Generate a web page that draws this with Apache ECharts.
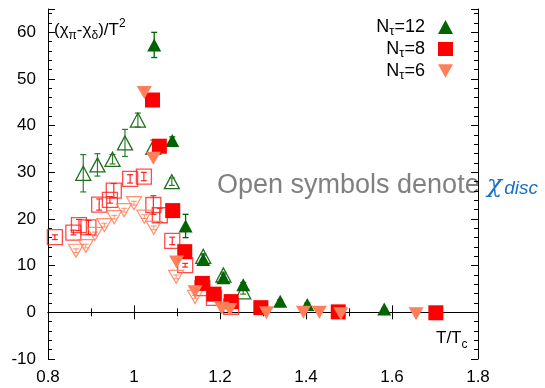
<!DOCTYPE html>
<html>
<head>
<meta charset="utf-8">
<script src="https://cdn.jsdelivr.net/npm/echarts@6/dist/echarts.min.js"></script>
<style>
  html, body { margin: 0; padding: 0; background: #fff; }
  #chart { width: 545px; height: 388px; }
</style>
</head>
<body>
<div id="chart"></div>
<script>
// N_tau = 12, filled: chi_pi - chi_delta over T^2
const t12 = [1.047, 1.089, 1.120, 1.161, 1.208, 1.254, 1.340, 1.403, 1.582];
const v12 = [57.3, 36.8, 18.5, 11.3, 7.4, 5.9, 2.4, 1.7, 0.7];
const e12 = [2.7, 0.8, 2.5, 1.0, 0.8, 0.5, 0.3, 0.3, 0.2];
// N_tau = 12, open: disconnected part
const t12d = [0.882, 0.915, 0.950, 0.979, 1.009, 1.045, 1.088, 1.161, 1.208, 1.254];
const v12d = [29.8, 31.6, 32.8, 36.3, 41.2, 35.4, 28.0, 12.0, 8.0, 4.4];
const e12d = [4.0, 2.4, 1.0, 2.9, 1.5, 1.5, 0.8, 0.6, 0.6, 0.5];
// N_tau = 8, filled
const t8 = [1.043, 1.059, 1.090, 1.118, 1.159, 1.186, 1.226, 1.295, 1.475, 1.702];
const v8 = [45.5, 35.6, 21.8, 13.0, 6.2, 3.9, 2.3, 1.0, 0.1, -0.1];
// N_tau = 8, open
const t8d = [0.816, 0.859, 0.872, 0.894, 0.919, 0.944, 0.953, 0.991, 1.023, 1.045, 1.060, 1.089, 1.119, 1.159, 1.186, 1.226];
const v8d = [16.1, 17.1, 18.7, 18.2, 23.1, 24.1, 26.1, 28.6, 29.1, 23.0, 20.8, 15.3, 10.1, 5.2, 3.1, 1.2];
const e8d = [0.5, 0.5, 1.2, 1.5, 1.2, 0.7, 1.5, 0.9, 0.9, 2.0, 1.5, 0.8, 0.4, 0.4, 0.3, 0.3];
// N_tau = 6, filled
const t6 = [1.024, 1.045, 1.099, 1.142, 1.204, 1.223, 1.308, 1.394, 1.431, 1.481, 1.656];
const v6 = [47.1, 33.0, 10.8, 4.4, 0.9, 0.6, -0.1, 0.0, 0.0, -0.3, -0.3];
// N_tau = 6, open
const t6d = [0.865, 0.888, 0.909, 0.931, 0.954, 0.977, 1.000, 1.024, 1.046, 1.098, 1.142];
const v6d = [13.2, 14.2, 16.8, 18.7, 20.4, 21.9, 23.4, 20.5, 18.1, 7.6, 3.3];
const e6d = [0.4, 0.4, 0.4, 0.4, 0.4, 0.4, 0.4, 0.4, 0.4, 0.4, 0.3];

const xTicks = [0.8, 1.0, 1.2, 1.4, 1.6, 1.8];
const yTicks = [-10, 0, 10, 20, 30, 40, 50, 60];

const GREEN = '#006400';
const RED = '#ff0000';
const SALMON = '#ff7f5a';
const FONT = '"Liberation Sans", Arial, sans-serif';

const pts = (t, v) => t.map((x, i) => [x, v[i]]);
const errPts = (t, v, e) => t.map((x, i) => [x, v[i], e[i]]);

function errorBars(color, width) {
  return function (params, api) {
    const x = api.value(0), y = api.value(1), e = api.value(2);
    const hi = api.coord([x, y + e]);
    const lo = api.coord([x, y - e]);
    const cap = 3;
    const style = { stroke: color, lineWidth: width };
    return {
      type: 'group',
      children: [
        { type: 'line', shape: { x1: hi[0], y1: hi[1], x2: lo[0], y2: lo[1] }, style },
        { type: 'line', shape: { x1: hi[0] - cap, y1: hi[1], x2: hi[0] + cap, y2: hi[1] }, style },
        { type: 'line', shape: { x1: lo[0] - cap, y1: lo[1], x2: lo[0] + cap, y2: lo[1] }, style }
      ]
    };
  };
}

function errSeries(data, color, width) {
  return {
    type: 'custom', silent: true, renderItem: errorBars(color, width),
    data, z: 3, encode: { x: 0, y: 1 }
  };
}

const fmtX = v => String(parseFloat(v.toFixed(2)));

const frameAxis = {
  axisLine: { show: true, lineStyle: { color: '#000', width: 1 } },
  splitLine: { show: false }
};

const option = {
  animation: false,
  backgroundColor: '#fff',
  grid: { left: 48, right: 67, top: 9, bottom: 29 },
  xAxis: [
    Object.assign({
      type: 'value', min: 0.8, max: 1.8, interval: 0.2, position: 'bottom',
      axisTick: { inside: true, length: 7, lineStyle: { color: '#000' } },
      minorTick: { show: true, splitNumber: 2, length: 4, lineStyle: { color: '#000' } },
      axisLabel: { color: '#000', fontSize: 17, fontFamily: FONT, margin: 10,
        formatter: v => xTicks.some(t => Math.abs(t - v) < 1e-6) ? fmtX(v) : '' }
    }, frameAxis),
    Object.assign({
      type: 'value', min: 0.8, max: 1.8, interval: 0.2, position: 'top',
      axisTick: { inside: true, length: 7, lineStyle: { color: '#000' } },
      minorTick: { show: true, splitNumber: 2, length: 4, lineStyle: { color: '#000' } },
      axisLabel: { show: false }
    }, frameAxis)
  ],
  yAxis: [
    Object.assign({
      type: 'value', min: -10, max: 65, interval: 10, position: 'left',
      axisTick: { inside: true, length: 7, lineStyle: { color: '#000' } },
      minorTick: { show: true, splitNumber: 5, length: 4, lineStyle: { color: '#000' } },
      axisLabel: { color: '#000', fontSize: 17, fontFamily: FONT, margin: 12, showMaxLabel: false,
        formatter: v => yTicks.indexOf(v) >= 0 ? String(v) : '' }
    }, frameAxis),
    Object.assign({
      type: 'value', min: -10, max: 65, interval: 10, position: 'right',
      axisTick: { inside: true, length: 7, lineStyle: { color: '#000' } },
      minorTick: { show: true, splitNumber: 5, length: 4, lineStyle: { color: '#000' } },
      axisLabel: { show: false }
    }, frameAxis)
  ],
  legend: {
    orient: 'vertical', right: 87, top: 13, align: 'right',
    itemWidth: 15, itemHeight: 14, itemGap: 2,
    data: [
      { name: 'Nt12', icon: 'triangle' },
      { name: 'Nt8', icon: 'rect' },
      { name: 'Nt6', icon: 'path://M0,0L10,0L5,9Z' }
    ],
    formatter: name => '{a|N}{s|τ}{b|=' + name.slice(2) + '}',
    textStyle: {
      color: '#000', fontFamily: FONT,
      rich: {
        a: { fontSize: 18, fontFamily: FONT, color: '#000', verticalAlign: 'top', lineHeight: 18 },
        b: { fontSize: 18, fontFamily: FONT, color: '#000', verticalAlign: 'top', lineHeight: 18, padding: [0, 8, 0, 0] },
        s: { fontSize: 13, fontFamily: FONT, color: '#000', verticalAlign: 'top', lineHeight: 11, padding: [7, 0, 0, 0] }
      }
    }
  },
  graphic: [
    {
      type: 'text', left: 54, top: 18,
      style: {
        text: '{a|(χ}{s|π}{a|-χ}{s|δ}{a|)/T}{p|2}',
        rich: {
          a: { fontSize: 17, fontFamily: FONT, fill: '#000', verticalAlign: 'top', lineHeight: 22, padding: [4, 0, 0, 0] },
          s: { fontSize: 12, fontFamily: FONT, fill: '#000', verticalAlign: 'top', lineHeight: 12, padding: [12, 0, 0, 0] },
          p: { fontSize: 12, fontFamily: FONT, fill: '#000', verticalAlign: 'top', lineHeight: 12, padding: [0, 0, 0, 0] }
        }
      }
    },
    {
      type: 'text', left: 436, top: 330,
      style: {
        text: '{a|T/T}{s|c}',
        rich: {
          a: { fontSize: 17, fontFamily: FONT, fill: '#000', verticalAlign: 'top', lineHeight: 18 },
          s: { fontSize: 12, fontFamily: FONT, fill: '#000', verticalAlign: 'top', lineHeight: 12, padding: [9, 0, 0, 0] }
        }
      }
    },
    {
      type: 'text', left: 217, top: 172,
      style: { text: 'Open symbols denote', fontSize: 27, fontFamily: FONT, fill: '#808080' }
    },
    {
      type: 'text', left: 487, top: 173,
      style: {
        text: '{c|χ}{d|disc}',
        rich: {
          c: { fontSize: 25, fontFamily: '"DejaVu Serif", serif', fontStyle: 'italic', fill: '#1a6fc6', verticalAlign: 'bottom' },
          d: { fontSize: 19, fontFamily: FONT, fontStyle: 'italic', fill: '#1a6fc6', verticalAlign: 'bottom', padding: [0, 0, 0, 2] }
        }
      }
    }
  ],
  series: [
    // open symbols (disconnected susceptibility) drawn first, behind the filled ones
    errSeries(errPts(t12d, v12d, e12d), '#2e7d2e', 1.2),
    {
      name: 'Nt12d', type: 'scatter', data: pts(t12d, v12d), symbol: 'triangle', symbolSize: [15, 14], z: 4,
      itemStyle: { color: 'rgba(0,0,0,0)', borderColor: '#1e701e', borderWidth: 1.3, opacity: 1 }
    },
    errSeries(errPts(t8d, v8d, e8d), 'rgba(255,0,0,0.85)', 1.2),
    {
      name: 'Nt8d', type: 'scatter', data: pts(t8d, v8d), symbol: 'rect', symbolSize: 15, z: 4,
      itemStyle: { color: 'rgba(0,0,0,0)', borderColor: 'rgba(255,30,30,0.8)', borderWidth: 1.3, opacity: 1 }
    },
    errSeries(errPts(t6d, v6d, e6d), 'rgba(255,127,90,0.9)', 1),
    {
      name: 'Nt6d', type: 'scatter', data: pts(t6d, v6d), symbol: 'triangle', symbolRotate: 180, symbolSize: [15, 13], z: 4,
      itemStyle: { color: 'rgba(0,0,0,0)', borderColor: 'rgba(255,127,90,0.85)', borderWidth: 1.2, opacity: 1 }
    },
    // filled symbols
    errSeries(errPts(t12, v12, e12), GREEN, 1.3),
    {
      name: 'Nt12', type: 'scatter', data: pts(t12, v12), symbol: 'triangle', symbolSize: [14, 13], z: 5,
      itemStyle: { color: GREEN, opacity: 1 }
    },
    {
      name: 'Nt8', type: 'scatter', data: pts(t8, v8), symbol: 'rect', symbolSize: 15, z: 5,
      itemStyle: { color: RED, opacity: 1 }
    },
    {
      name: 'Nt6', type: 'scatter', data: pts(t6, v6), symbol: 'triangle', symbolRotate: 180, symbolSize: [15, 13], z: 6,
      itemStyle: { color: SALMON, opacity: 1 }
    }
  ]
};

echarts.init(document.getElementById('chart'), null, { renderer: 'canvas' }).setOption(option);
</script>
</body>
</html>
